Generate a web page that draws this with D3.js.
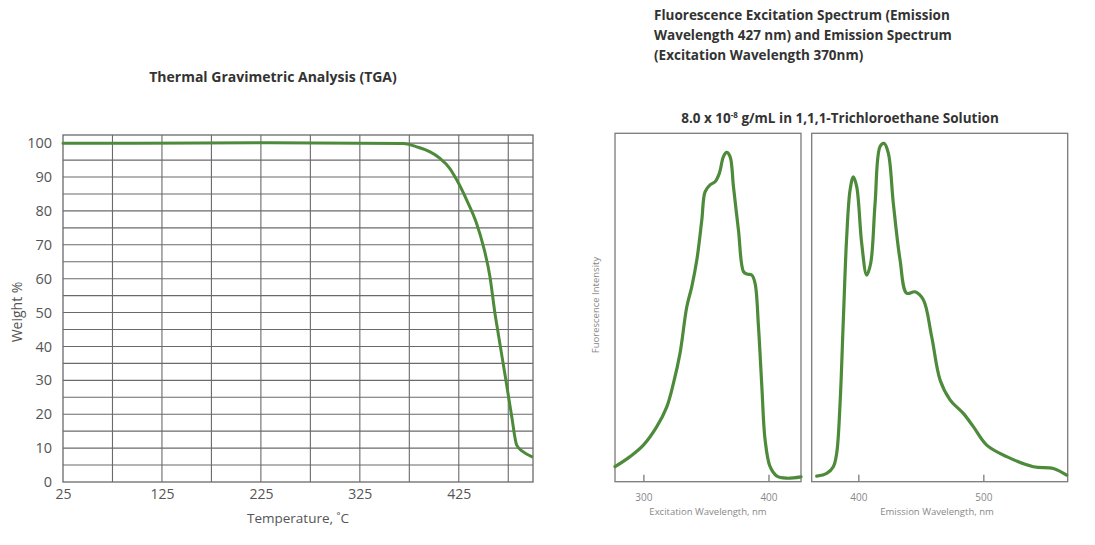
<!DOCTYPE html>
<html>
<head>
<meta charset="utf-8">
<script src="https://cdn.jsdelivr.net/npm/d3@7"></script>
<style>
  body { margin: 0; background: #ffffff; }
  svg { display: block; font-family: "Open Sans", "Noto Sans", sans-serif; }
</style>
</head>
<body>
<svg id="chart" width="1095" height="545"></svg>
<script>
// ---------- DATA ----------
const tgaTemperature = [25, 100, 234, 369, 382.5, 396, 406, 416, 423, 433, 443, 450, 456.5, 461.5, 464.8, 473.2, 478.5, 483.5, 490.2, 498.7];
const tgaWeight      = [100, 100, 100.1, 99.9, 98.9, 97.4, 95.5, 92.5, 89.1, 83.2, 76.3, 69.4, 60.6, 49.9, 43.9, 29.0, 19.3, 10.9, 8.9, 7.5];
const tgaXTicks = [25, 125, 225, 325, 425];
const tgaYTicks = [0, 10, 20, 30, 40, 50, 60, 70, 80, 90, 100];

const excWavelength = [277.3, 289.3, 300, 310.7, 318.7, 324, 329.3, 334.7, 338.7, 342.7, 346.7, 349.3, 353.3, 357.3, 360.7, 364, 366.6, 369.3, 372, 376, 380, 382.7, 386.7, 389.3, 392, 394.7, 397.3, 401.3, 406.7, 414.7, 426];
const excIntensity  = [4.3, 7.2, 10.5, 15.8, 21.5, 28.2, 36.9, 50.2, 56.0, 63.6, 75.1, 83.2, 85.2, 86.1, 88.5, 93.3, 94.5, 93.3, 84.7, 72.2, 60.3, 59.6, 59.3, 56.9, 44.5, 27.3, 12.0, 4.3, 1.6, 1.0, 1.4];
const excTicks = [300, 400];

const emWavelength = [366.7, 374.7, 380, 382.7, 385.4, 388, 390.7, 393.4, 396, 398.7, 402.7, 406.7, 409.9, 413.4, 417.4, 420.6, 424, 428, 433.4, 438.7, 445.4, 452, 458.7, 465.4, 473.4, 484, 492, 502.7, 518.7, 540, 556, 566.7];
const emIntensity  = [1.6, 2.4, 4.3, 8.2, 22.5, 46.4, 70.3, 83.7, 87.5, 84.7, 68.4, 59.3, 62.7, 79.9, 96.2, 97.1, 94.3, 79.9, 63.6, 54.1, 54.5, 52.2, 41.6, 29.2, 23.5, 19.6, 15.8, 10.5, 7.2, 4.3, 3.8, 1.9];
const emTicks = [400, 500];

// ---------- STYLE ----------
const green = "#4d8b3b";
const gridColor = "#6a6a6a";
const svg = d3.select("#chart");

// ---------- TGA ----------
const tx = d3.scaleLinear().domain([25, 500]).range([63, 533]);
const ty = d3.scaleLinear().domain([0, 102.4]).range([482, 135]);

const tga = svg.append("g");
const hLines = d3.range(5, 101, 5);
tga.selectAll("line.h").data(hLines).join("line")
  .attr("x1", tx(25)).attr("x2", tx(500))
  .attr("y1", d => ty(d)).attr("y2", d => ty(d))
  .attr("stroke", gridColor).attr("stroke-width", 1.1);
const vLines = d3.range(75, 476, 50);
tga.selectAll("line.v").data(vLines).join("line")
  .attr("x1", d => tx(d)).attr("x2", d => tx(d))
  .attr("y1", ty(102.4)).attr("y2", ty(0))
  .attr("stroke", gridColor).attr("stroke-width", 1.1);
tga.append("rect")
  .attr("x", tx(25)).attr("y", ty(102.4))
  .attr("width", tx(500) - tx(25)).attr("height", ty(0) - ty(102.4))
  .attr("fill", "none").attr("stroke", gridColor).attr("stroke-width", 1.3);

const txAxis = tga.append("g").attr("transform", `translate(0,${ty(0)})`)
  .call(d3.axisBottom(tx).tickValues(tgaXTicks).tickSize(0).tickPadding(7));
txAxis.select(".domain").remove();
txAxis.selectAll("text").attr("font-size", 14).attr("fill", "#555").attr("font-family", "Open Sans");

const tyAxis = tga.append("g").attr("transform", `translate(${tx(25)},0)`)
  .call(d3.axisLeft(ty).tickValues(tgaYTicks).tickSize(0).tickPadding(11));
tyAxis.select(".domain").remove();
tyAxis.selectAll("text").attr("font-size", 14.5).attr("fill", "#555").attr("font-family", "Open Sans");

const tgaLine = d3.line()
  .x((d, i) => tx(tgaTemperature[i]))
  .y(d => ty(d))
  .curve(d3.curveMonotoneX);
tga.append("path").datum(tgaWeight)
  .attr("d", tgaLine)
  .attr("fill", "none").attr("stroke", green).attr("stroke-width", 3)
  .attr("stroke-linejoin", "round").attr("stroke-linecap", "round");

svg.append("text").attr("x", 273).attr("y", 82).attr("text-anchor", "middle")
  .attr("font-size", 14).attr("font-weight", "bold").attr("fill", "#333")
  .text("Thermal Gravimetric Analysis (TGA)");
svg.append("text").attr("x", 298).attr("y", 523).attr("text-anchor", "middle")
  .attr("font-size", 13.5).attr("fill", "#555")
  .text("Temperature, ˚C");
svg.append("text").attr("transform", "translate(22,312) rotate(-90)").attr("text-anchor", "middle")
  .attr("font-size", 14).attr("fill", "#555")
  .text("Weight %");

// ---------- FLUORESCENCE ----------
const iy = d3.scaleLinear().domain([0, 100]).range([481.7, 133.3]);

function spectrumPanel(xDomain, xRange, wl, inten, ticks, label, labelX) {
  const x = d3.scaleLinear().domain(xDomain).range(xRange);
  const g = svg.append("g");
  g.append("rect")
    .attr("x", xRange[0]).attr("y", iy(100))
    .attr("width", xRange[1] - xRange[0]).attr("height", iy(0) - iy(100))
    .attr("fill", "none").attr("stroke", "#7a7a7a").attr("stroke-width", 1.3);
  const ax = g.append("g").attr("transform", `translate(0,${iy(0)})`)
    .call(d3.axisBottom(x).tickValues(ticks).tickSizeInner(-7).tickSizeOuter(0).tickPadding(12));
  ax.select(".domain").remove();
  ax.selectAll("line").attr("stroke", "#7a7a7a").attr("stroke-width", 1.3);
  ax.selectAll("text").attr("font-size", 10).attr("fill", "#888").attr("font-family", "Open Sans");
  const line = d3.line()
    .x((d, i) => x(wl[i]))
    .y(d => iy(d))
    .curve(d3.curveCatmullRom.alpha(0.5));
  g.append("path").datum(inten)
    .attr("d", line)
    .attr("fill", "none").attr("stroke", green).attr("stroke-width", 3.2)
    .attr("stroke-linejoin", "round").attr("stroke-linecap", "round");
  g.append("text").attr("x", labelX).attr("y", 515).attr("text-anchor", "middle")
    .attr("font-size", 9.5).attr("fill", "#888").text(label);
}

spectrumPanel([277.3, 426], [615, 801], excWavelength, excIntensity, excTicks, "Excitation Wavelength, nm", 708);
spectrumPanel([362.7, 567.5], [811.7, 1067.7], emWavelength, emIntensity, emTicks, "Emission Wavelength, nm", 937);

svg.append("text").attr("transform", "translate(599,305) rotate(-90)").attr("text-anchor", "middle")
  .attr("font-size", 9.5).attr("fill", "#888")
  .text("Fuorescence Intensity");

const titleLines = [
  "Fluorescence Excitation Spectrum (Emission",
  "Wavelength 427 nm) and Emission Spectrum",
  "(Excitation Wavelength 370nm)"
];
svg.append("g").selectAll("text").data(titleLines).join("text")
  .attr("x", 654).attr("y", (d, i) => 20 + i * 20)
  .attr("font-size", 13.5).attr("font-weight", "bold").attr("fill", "#333")
  .text(d => d);

const sub = svg.append("text").attr("x", 840).attr("y", 123).attr("text-anchor", "middle")
  .attr("font-size", 13.5).attr("font-weight", "bold").attr("fill", "#333");
sub.append("tspan").text("8.0 x 10");
sub.append("tspan").attr("dy", -5).attr("font-size", 8).text("-8");
sub.append("tspan").attr("dy", 5).text(" g/mL in 1,1,1-Trichloroethane Solution");
</script>
</body>
</html>
